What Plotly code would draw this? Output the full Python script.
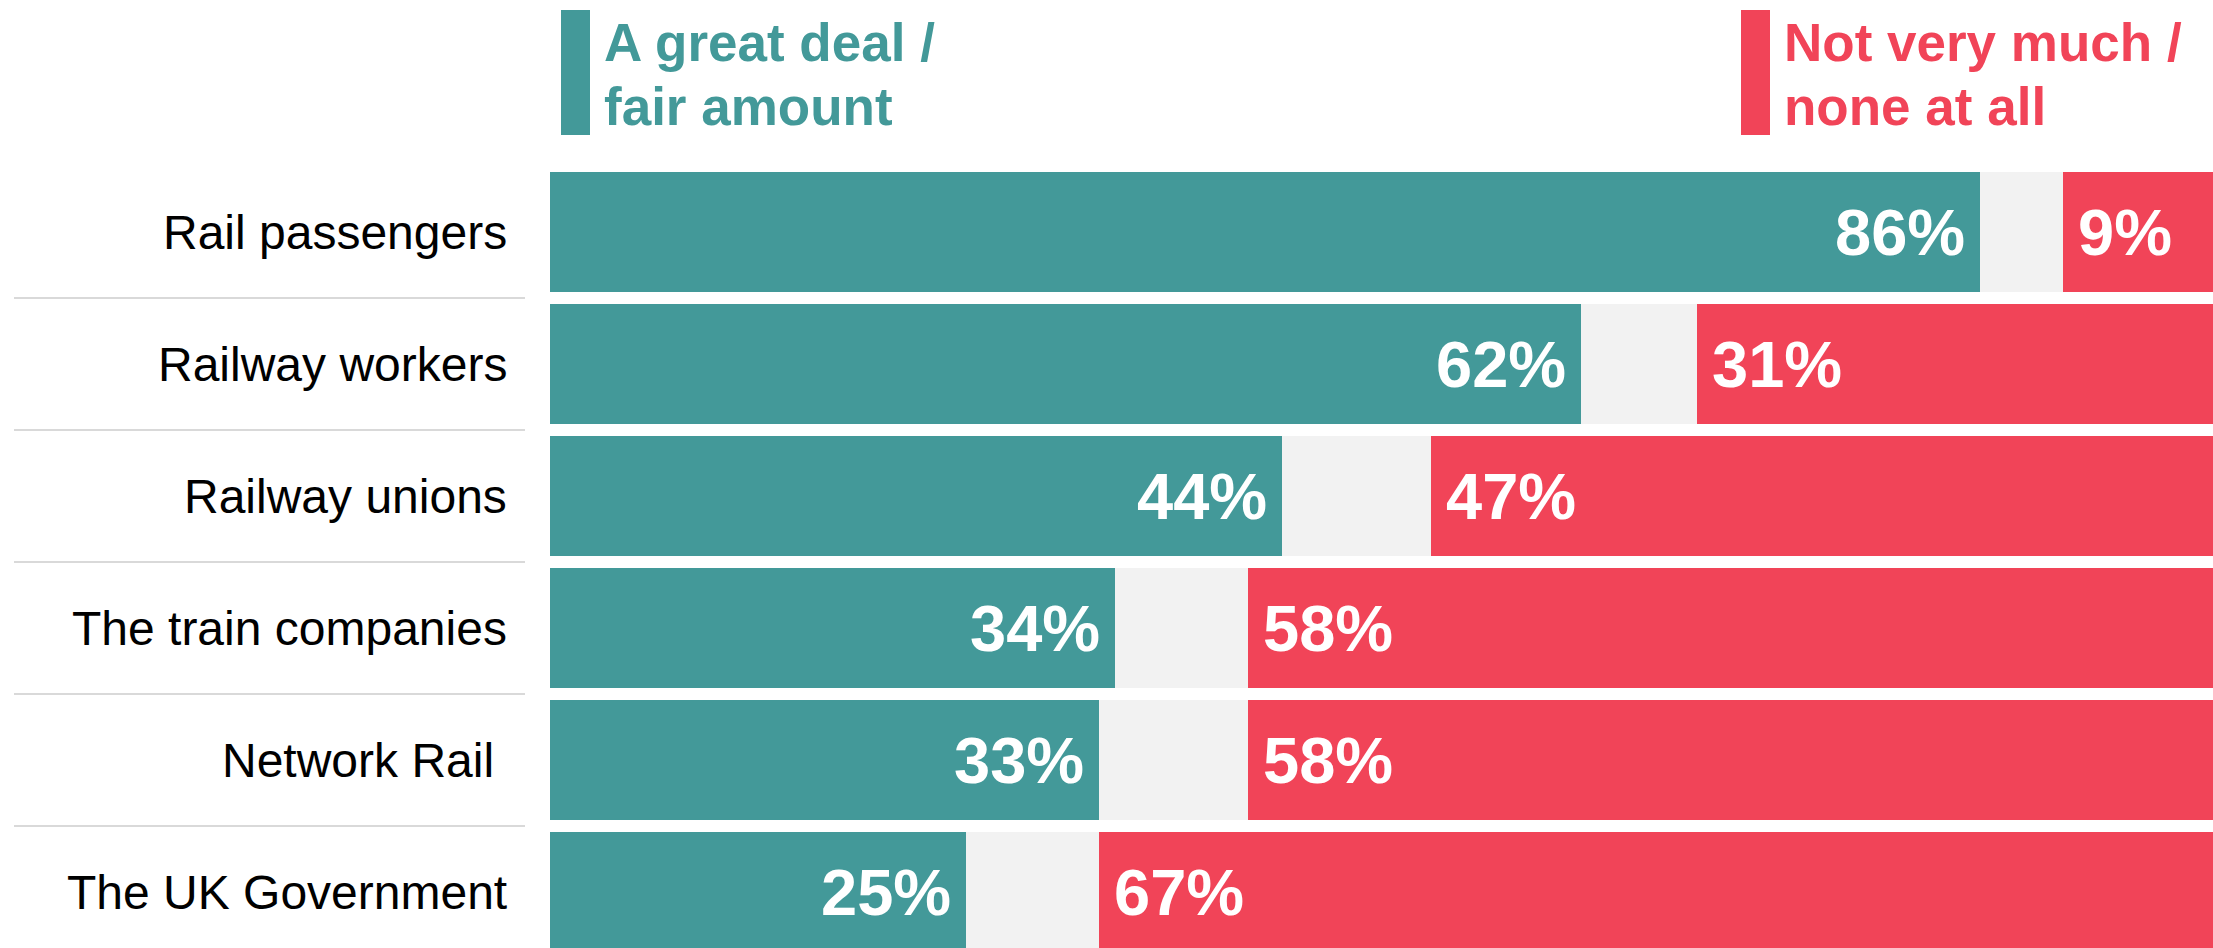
import plotly.graph_objects as go

categories = ["Rail passengers", "Railway workers", "Railway unions",
              "The train companies", "Network Rail ", "The UK Government"]
great_deal = [86, 62, 44, 34, 33, 25]
not_much = [9, 31, 47, 58, 58, 67]
series_names = ["A great deal /<br>fair amount", "Not very much /<br>none at all"]

TEAL = "#439999"
RED = "#f14458"
GRAY = "#f2f2f2"
FONT = "Liberation Sans"

W, H = 2213, 948
L, T = 550, 166
PW, PH = W - L, H - T

other = [100 - a - b for a, b in zip(great_deal, not_much)]

fig = go.Figure()
fig.add_trace(go.Bar(y=categories, x=great_deal, orientation="h",
                     marker=dict(color=TEAL, line=dict(width=0)), name="great", showlegend=False,
                     hoverinfo="skip"))
fig.add_trace(go.Bar(y=categories, x=other, orientation="h",
                     marker=dict(color=GRAY, line=dict(width=0)), name="other", showlegend=False,
                     hoverinfo="skip"))
fig.add_trace(go.Bar(y=categories, x=not_much, orientation="h",
                     marker=dict(color=RED, line=dict(width=0)), name="not", showlegend=False,
                     hoverinfo="skip"))


def px_x(px):
    return (px - L) / PW


def px_y(py):
    return (H - py) / PH


annotations = []
shapes = []
for i, (cat, g, n) in enumerate(zip(categories, great_deal, not_much)):
    annotations.append(dict(x=g, y=cat, xref="x", yref="y", text=f"<b>{g}%</b>",
                            showarrow=False, xanchor="right", yanchor="middle", xshift=-14,
                            borderpad=0, font=dict(family=FONT, size=65, color="white")))
    annotations.append(dict(x=100 - n, y=cat, xref="x", yref="y", text=f"<b>{n}%</b>",
                            showarrow=False, xanchor="left", yanchor="middle", xshift=14,
                            borderpad=0, font=dict(family=FONT, size=65, color="white")))
    annotations.append(dict(x=0, y=cat, xref="paper", yref="y", text=cat.replace(" ", "\u00a0"),
                            showarrow=False, xanchor="right", yanchor="middle", xshift=-42,
                            borderpad=0, font=dict(family=FONT, size=48, color="#000000")))
    if i < len(categories) - 1:
        shapes.append(dict(type="line", xref="paper", yref="y",
                           x0=px_x(14), x1=px_x(525), y0=i + 0.5, y1=i + 0.5,
                           line=dict(color="#d9d9d9", width=2)))

# legend blocks
for rect_x, text_x, color, name in [(561, 603, TEAL, series_names[0]), (1741, 1783, RED, series_names[1])]:
    shapes.append(dict(type="rect", xref="paper", yref="paper",
                       x0=px_x(rect_x), x1=px_x(rect_x + 29), y0=px_y(135), y1=px_y(10),
                       fillcolor=color, line=dict(width=0)))
    lines = name.split("<br>")
    for j, (ln, cy) in enumerate(zip(lines, [43, 106])):
        annotations.append(dict(x=px_x(text_x), y=px_y(cy), xref="paper", yref="paper",
                                text=f"<b>{ln}</b>", showarrow=False, xanchor="left",
                                yanchor="middle", borderpad=0,
                                font=dict(family=FONT, size=53, color=color)))

fig.update_layout(
    width=W, height=H,
    margin=dict(l=L, r=0, t=T, b=0, pad=0),
    barmode="stack", bargap=12 / 132,
    plot_bgcolor="white", paper_bgcolor="white",
    xaxis=dict(range=[0, 100], visible=False, fixedrange=True),
    yaxis=dict(categoryorder="array", categoryarray=categories,
               range=[-0.5 + PH / 132, -0.5], showticklabels=False,
               showgrid=False, zeroline=False, fixedrange=True),
    annotations=annotations, shapes=shapes,
    showlegend=False,
)

fig.write_html("out.html", config={"displayModeBar": False},
               post_script="document.body.style.margin='0';document.body.style.overflow='hidden';")
